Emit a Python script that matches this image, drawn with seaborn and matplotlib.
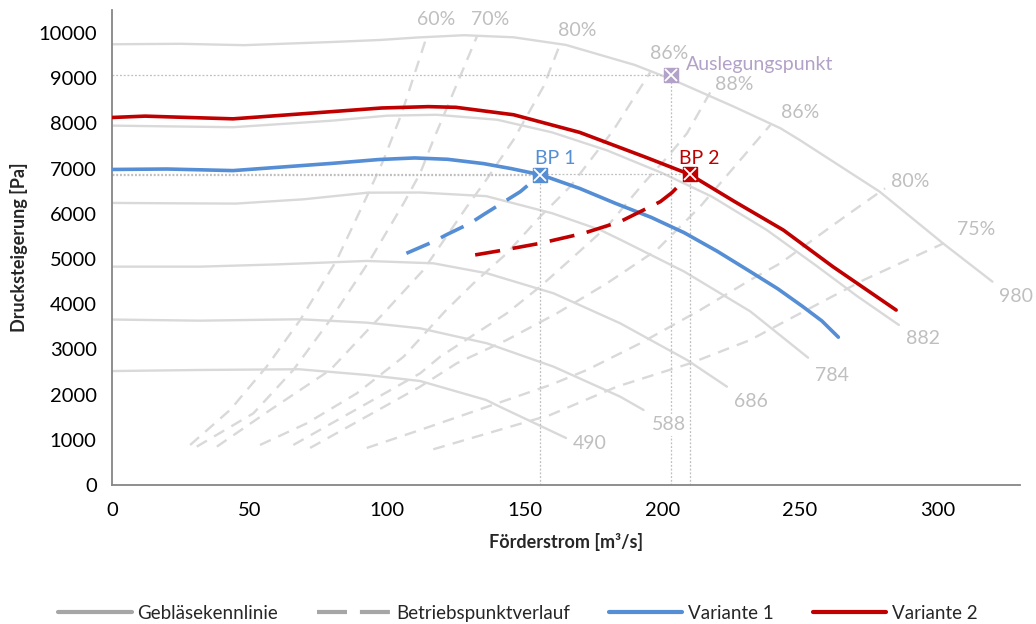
import numpy as np
import pandas as pd
import matplotlib.pyplot as plt
import seaborn as sns
from matplotlib.lines import Line2D

sns.set_theme(style="white")
plt.rcParams["font.family"] = ["Lato", "DejaVu Sans"]
plt.rcParams["lines.solid_joinstyle"] = "round"
plt.rcParams["lines.solid_capstyle"] = "round"

# Gebläsekennlinien (Drehzahl -> Förderstrom / Drucksteigerung)
drehzahlen = ["490", "588", "686", "784", "882", "980"]
kl_490_q = [0, 32, 68, 92.6, 112, 136, 141, 165]
kl_490_p = [2520, 2544, 2560, 2434, 2300, 1880, 1730, 1040]
kl_588_q = [0, 32, 68.4, 92.6, 112, 136.3, 160.5, 184.7, 193.2]
kl_588_p = [3660, 3635, 3666, 3591, 3466, 3134, 2617, 1954, 1659]
kl_686_q = [0, 32, 60, 92.6, 116.8, 136.3, 160.5, 184.7, 209, 223.5]
kl_686_p = [4830, 4830, 4880, 4956, 4904, 4683, 4240, 3577, 2765, 2175]
kl_784_q = [0, 21, 45, 69.6, 93, 112, 136, 160, 177.5, 185, 208, 232, 253]
kl_784_p = [6240, 6232, 6225, 6320, 6467, 6470, 6390, 6011, 5641, 5420, 4720, 3840, 2816]
kl_882_q = [0, 44, 80, 100, 118, 140, 160, 180, 200, 218, 238, 256, 271, 286]
kl_882_p = [7950, 7915, 8060, 8170, 8190, 8080, 7800, 7400, 6900, 6380, 5640, 4850, 4170, 3540]
kl_980_q = [0, 25, 48, 80, 97.5, 111, 128, 146, 165, 190, 204, 226, 243, 250, 279, 302, 320]
kl_980_p = [9750, 9760, 9730, 9800, 9845, 9900, 9950, 9904, 9735, 9292, 8960, 8370, 7890, 7630, 6490, 5347, 4498]

# Betriebspunktverlauf (Wirkungsgradlinien)
eta_labels = ["60%", "70%", "80%", "86%", "88%", "86% ", "80% ", "75%"]
eta_60_q = [28.4, 42.9, 56.2, 68.4, 81.7, 92.6, 98.7, 105.3, 113.8]
eta_60_p = [885, 1659, 2617, 3650, 4978, 6380, 7190, 8223, 9810]
eta_70_q = [30.8, 51.4, 65.9, 79.3, 93.8, 106, 112, 116.8, 126.5, 132.6]
eta_70_p = [848, 1586, 2544, 3650, 4978, 6232, 6895, 7633, 9033, 9918]
eta_80a_q = [38.1, 57.5, 79.3, 98.7, 113.2, 129, 136, 145.9, 156.8, 163]
eta_80a_p = [848, 1659, 2544, 3798, 4757, 6157, 6748, 7633, 8812, 9771]
eta_86a_q = [53.8, 70.8, 89, 106, 121, 131.4, 143.5, 155.6, 166.5, 182.3, 195.6]
eta_86a_p = [885, 1364, 2028, 2839, 3840, 4462, 5125, 5936, 6600, 7854, 9130]
eta_88_q = [65.9, 112, 119.3, 143.5, 155.6, 167.8, 179.9, 193.2, 202, 209, 218.6]
eta_88_p = [885, 2470, 2839, 3798, 4388, 5051, 5715, 6675, 7264, 7781, 8812]
eta_86b_q = [72, 112, 125.3, 143.5, 161.7, 179.9, 198, 213.8, 239.3]
eta_86b_p = [819, 2175, 2692, 3208, 3798, 4462, 5199, 6160, 7965]
eta_80b_q = [92.6, 112, 159.3, 172.6, 192, 213.8, 232, 242.9, 267.2, 281]
eta_80b_p = [819, 1217, 2212, 2544, 3134, 3872, 4535, 4904, 5973, 6564]
eta_75_q = [116.8, 159.3, 183.5, 210.2, 232, 244, 273.2, 302.3]
eta_75_p = [790, 1549, 2175, 2692, 3208, 3600, 4535, 5347]

# Varianten
v1_q = [0, 20, 44, 80, 97, 110, 122, 135, 145, 156, 170, 183, 196, 208, 220, 232, 242, 251, 258, 264]
v1_p = [6980, 6990, 6955, 7115, 7200, 7235, 7205, 7110, 7000, 6860, 6560, 6230, 5920, 5580, 5170, 4720, 4340, 3950, 3630, 3270]
v2_q = [0, 12, 44, 80, 98, 115, 125, 146, 170, 194, 210, 226, 244, 262, 285]
v2_p = [8130, 8160, 8100, 8260, 8340, 8370, 8355, 8190, 7800, 7250, 6870, 6280, 5640, 4830, 3870]
v1_bp_q = [107, 116.8, 121.7, 130.2, 135, 148.4, 155.6]
v1_bp_p = [5125, 5383, 5540, 5790, 5980, 6489, 6858]
v2_bp_q = [132, 141, 155.6, 171.4, 184.7, 199.3, 203.5, 210]
v2_bp_p = [5090, 5183, 5346, 5568, 5826, 6268, 6467, 6870]

# Punkte
punkt_namen = ["BP 1", "BP 2", "Auslegungspunkt"]
punkt_q = [155.6, 210, 203]
punkt_p = [6860, 6870, 9070]

GRAU = "#d9d9d9"
TXT_GRAU = "#bfbfbf"
BLAU = "#558ed5"
ROT = "#c00000"
LILA = "#b3a2c7"

kl = pd.concat([
    pd.DataFrame({"q": q, "p": p, "n": n})
    for n, q, p in zip(drehzahlen,
                       [kl_490_q, kl_588_q, kl_686_q, kl_784_q, kl_882_q, kl_980_q],
                       [kl_490_p, kl_588_p, kl_686_p, kl_784_p, kl_882_p, kl_980_p])
])
eta = pd.concat([
    pd.DataFrame({"q": q, "p": p, "eta": e})
    for e, q, p in zip(eta_labels,
                       [eta_60_q, eta_70_q, eta_80a_q, eta_86a_q, eta_88_q, eta_86b_q, eta_80b_q, eta_75_q],
                       [eta_60_p, eta_70_p, eta_80a_p, eta_86a_p, eta_88_p, eta_86b_p, eta_80b_p, eta_75_p])
])

fig = plt.figure(figsize=(10.36, 6.24), dpi=100)
ax = fig.add_axes([0.1081, 0.2228, 0.8764, 0.7606])

sns.lineplot(data=kl, x="q", y="p", units="n", estimator=None, sort=False,
             color=GRAU, linewidth=1.7, ax=ax, legend=False, zorder=1)
sns.lineplot(data=eta, x="q", y="p", units="eta", estimator=None, sort=False,
             color=GRAU, linewidth=1.7, linestyle=(0, (5, 3.5)), ax=ax,
             legend=False, zorder=1)

# Hilfslinien zu den Punkten
for q, p in zip(punkt_q, punkt_p):
    ax.plot([0, q], [p, p], color=TXT_GRAU, lw=0.9, ls=(0, (1.5, 1.5)), zorder=2)
    ax.plot([q, q], [0, p], color=TXT_GRAU, lw=0.9, ls=(0, (1.5, 1.5)), zorder=2)

sns.lineplot(x=v1_q, y=v1_p, color=BLAU, linewidth=2.6, sort=False, ax=ax, zorder=3)
sns.lineplot(x=v2_q, y=v2_p, color=ROT, linewidth=2.6, sort=False, ax=ax, zorder=3)
sns.lineplot(x=v1_bp_q, y=v1_bp_p, color=BLAU, linewidth=2.6, sort=False,
             linestyle=(0, (7, 3.5)), ax=ax, zorder=3)
sns.lineplot(x=v2_bp_q, y=v2_bp_p, color=ROT, linewidth=2.6, sort=False,
             linestyle=(0, (7, 3.5)), ax=ax, zorder=3)

for q, p, c in zip(punkt_q, punkt_p, [BLAU, ROT, LILA]):
    ax.plot(q, p, marker="s", ms=10, mfc=c, mec=c, zorder=5)
    ax.plot(q, p, marker="x", ms=9, mew=1.3, color="white", zorder=6)

ax.text(161, 7228, "BP 1", color=BLAU, fontsize=14, ha="center", va="center")
ax.text(213.5, 7228, "BP 2", color=ROT, fontsize=14, ha="center", va="center")
ax.text(208.7, 9292, "Auslegungspunkt", color=LILA, fontsize=14, ha="left", va="center")

# Beschriftung Wirkungsgrad
eta_txt_q = [117.8, 137.5, 169, 202.6, 226, 250, 290, 314]
eta_txt_p = [10288, 10288, 10051, 9550, 8850, 8230, 6710, 5657]
for t, q, p in zip(eta_labels, eta_txt_q, eta_txt_p):
    ax.text(q, p, t.strip(), color=TXT_GRAU, fontsize=14, ha="center", va="center")

# Beschriftung Drehzahl
n_txt_q = [173.8, 202.3, 232.2, 261.7, 294.8, 328.4]
n_txt_p = [920, 1327, 1843, 2419, 3245, 4166]
for t, q, p in zip(drehzahlen, n_txt_q, n_txt_p):
    ax.text(q, p, t, color=TXT_GRAU, fontsize=14, ha="center", va="center", zorder=4,
            bbox=dict(facecolor="white", edgecolor="none", pad=2))

ax.set_xlim(0, 330)
ax.set_ylim(0, 10500)
ax.set_xticks(np.arange(0, 301, 50))
ax.set_yticks(np.arange(0, 10001, 1000))
ax.tick_params(axis="both", direction="out", length=5, width=1.1, color="#868686",
               labelsize=14.5, labelcolor="black", pad=6)
ax.tick_params(axis="x", pad=7)
for s in ["top", "right"]:
    ax.spines[s].set_visible(False)
for s in ["left", "bottom"]:
    ax.spines[s].set_color("#868686")
    ax.spines[s].set_linewidth(1.3)
ax.set_xlabel("Förderstrom [m³/s]", fontsize=13, fontweight="bold", labelpad=10)
ax.set_ylabel("Drucksteigerung [Pa]", fontsize=13, fontweight="bold", labelpad=7)

handles = [
    Line2D([], [], color="#a6a6a6", lw=3),
    Line2D([], [], color="#a6a6a6", lw=3, dashes=(7.2, 3.1)),
    Line2D([], [], color=BLAU, lw=3),
    Line2D([], [], color=ROT, lw=3),
]
fig.legend(handles, ["Gebläsekennlinie", "Betriebspunktverlauf", "Variante 1", "Variante 2"],
           loc="center", bbox_to_anchor=(0.5, 0.0176), ncol=4, frameon=False,
           fontsize=13.5, handlelength=3.9, handletextpad=0.3, columnspacing=2.1)

fig.savefig("out.png", dpi=100)
